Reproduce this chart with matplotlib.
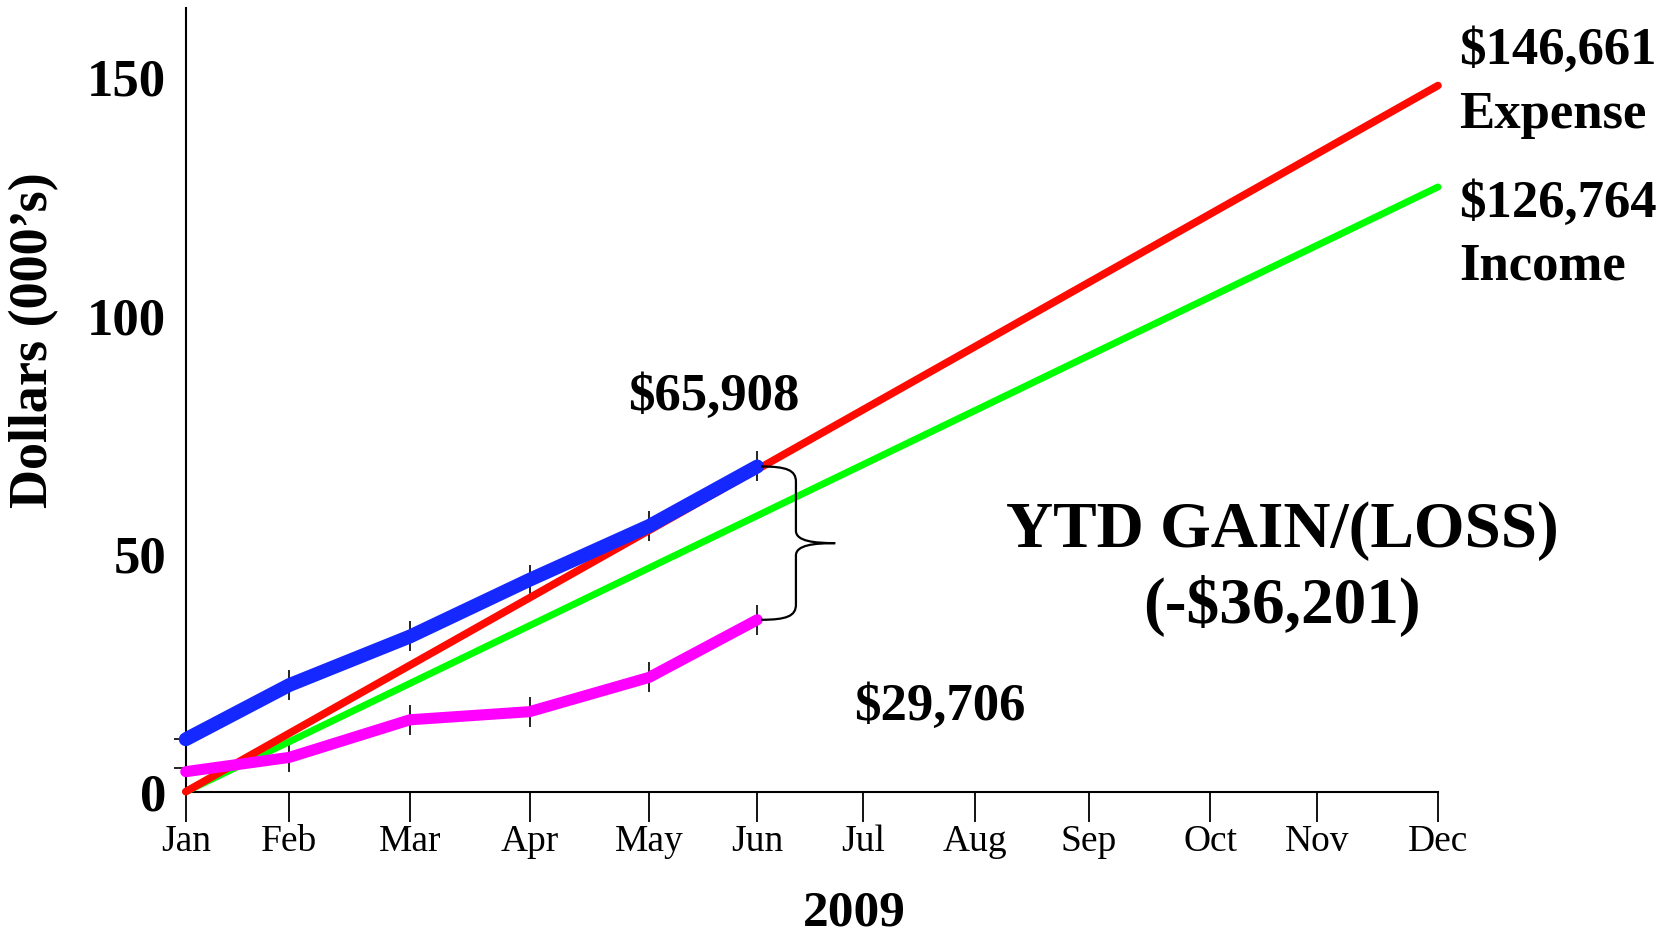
import matplotlib
matplotlib.use('Agg')
import matplotlib.pyplot as plt
from matplotlib.path import Path
from matplotlib.patches import PathPatch

plt.rcParams['font.family'] = ['Liberation Serif', 'DejaVu Serif']

# ---- data ----
months = ['Jan', 'Feb', 'Mar', 'Apr', 'May', 'Jun', 'Jul', 'Aug', 'Sep', 'Oct', 'Nov', 'Dec']
month_pos = [0.0, 0.91, 1.97, 3.02, 4.07, 5.02, 5.95, 6.93, 7.93, 9.00, 9.94, 11.0]
budget_expense = [0.0, 148.3]      # Jan -> Dec (000's)
budget_income = [0.0, 127.0]       # Jan -> Dec (000's)
ytd_expense = [11.0, 22.4, 32.6, 44.5, 55.8, 68.3]   # Jan..Jun
ytd_income = [4.2, 7.2, 15.1, 16.8, 24.0, 36.1]      # Jan..Jun
y_ticks = [0, 50, 100, 150]
y_small_ticks = [11.0, 4.9]

fig = plt.figure(figsize=(16.75, 9.36), dpi=100)
ax = fig.add_axes([0.1109, 0.1542, 0.7476, 0.8368])

ends_x = [month_pos[0], month_pos[-1]]
ytd_x = month_pos[:len(ytd_expense)]

ax.plot(ends_x, budget_income, color='#00ff00', lw=5.0, solid_capstyle='round', zorder=3, clip_on=False)
ax.plot(ends_x, budget_expense, color='#ff0a00', lw=5.5, solid_capstyle='round', zorder=4, clip_on=False)
# tick markers below the lines
ax.plot(ytd_x, ytd_income, ls='none', marker='|', ms=21, mew=1.2, color='black', zorder=2.5, clip_on=False)
ax.plot(ytd_x, ytd_expense, ls='none', marker='|', ms=21, mew=1.2, color='black', zorder=2.5, clip_on=False)
ax.plot(ytd_x, ytd_income, color='#ff00ff', lw=8.0, solid_capstyle='round', solid_joinstyle='round', zorder=5, clip_on=False)
ax.plot(ytd_x, ytd_expense, color='#1428ff', lw=10.0, solid_capstyle='round', solid_joinstyle='round', zorder=6, clip_on=False)

ax.set_xlim(month_pos[0], month_pos[-1])
ax.set_ylim(0, 164.5)

for s in ['top', 'right']:
    ax.spines[s].set_visible(False)
for s in ['left', 'bottom']:
    ax.spines[s].set_linewidth(1.5)
    ax.spines[s].set_color('black')

ax.set_xticks(month_pos)
ax.set_xticklabels(months, fontsize=27)
ax.tick_params(axis='x', direction='out', length=21.5, width=1.3, pad=2, colors='black')

ax.set_yticks(y_ticks)
ax.set_yticklabels([str(v) for v in y_ticks], fontsize=38, fontweight='bold')
ax.tick_params(axis='y', which='major', length=0, pad=14)
ax.set_yticks(y_small_ticks, minor=True)
ax.tick_params(axis='y', which='minor', direction='out', length=9, width=1.2)

# brace between YTD expense and YTD income at June
x0 = month_pos[len(ytd_expense) - 1]
yt = ytd_expense[-1]
yb = ytd_income[-1]
ym = (yt + yb) / 2
verts = [
    (x0 + 0.035, yt),
    (x0 + 0.26, yt), (x0 + 0.34, yt - 0.8), (x0 + 0.34, yt - 3.2),
    (x0 + 0.34, ym + 2.6),
    (x0 + 0.34, ym + 0.4), (x0 + 0.50, ym), (x0 + 0.685, ym),
    (x0 + 0.50, ym), (x0 + 0.34, ym - 0.4), (x0 + 0.34, ym - 2.6),
    (x0 + 0.34, yb + 3.2),
    (x0 + 0.34, yb + 0.8), (x0 + 0.26, yb), (x0 + 0.035, yb),
]
codes = [Path.MOVETO,
         Path.CURVE4, Path.CURVE4, Path.CURVE4,
         Path.LINETO,
         Path.CURVE4, Path.CURVE4, Path.CURVE4,
         Path.CURVE4, Path.CURVE4, Path.CURVE4,
         Path.LINETO,
         Path.CURVE4, Path.CURVE4, Path.CURVE4]
ax.add_patch(PathPatch(Path(verts, codes), fill=False, lw=1.6, color='black', zorder=7, clip_on=False))

# annotations
bold = dict(fontweight='bold', color='black')
ax.text(4.637, 80.2, '$65,908', fontsize=38, ha='center', va='baseline', **bold)
ax.text(6.625, 15.1, '$29,706', fontsize=38, ha='center', va='baseline', **bold)
ax.text(9.629, 51.4, 'YTD GAIN/(LOSS)', fontsize=47, ha='center', va='baseline', **bold)
ax.text(9.629, 35.5, '(-$36,201)', fontsize=47, ha='center', va='baseline', **bold)
ax.text(11.184, 152.9, '$146,661', fontsize=38, ha='left', va='baseline', clip_on=False, **bold)
ax.text(11.184, 139.4, 'Expense', fontsize=38, ha='left', va='baseline', clip_on=False, **bold)
ax.text(11.184, 120.8, '$126,764', fontsize=38, ha='left', va='baseline', clip_on=False, **bold)
ax.text(11.184, 107.5, 'Income', fontsize=38, ha='left', va='baseline', clip_on=False, **bold)

fig.text(34 / 1675, 1 - 340 / 936, 'Dollars (000\u2019s)', rotation=90, fontsize=39,
         ha='center', va='center', **bold)
fig.text(854.6 / 1675, 1 - 926 / 936, '2009', fontsize=37, ha='center', va='baseline', **bold)

fig.savefig('out.png', dpi=100)
